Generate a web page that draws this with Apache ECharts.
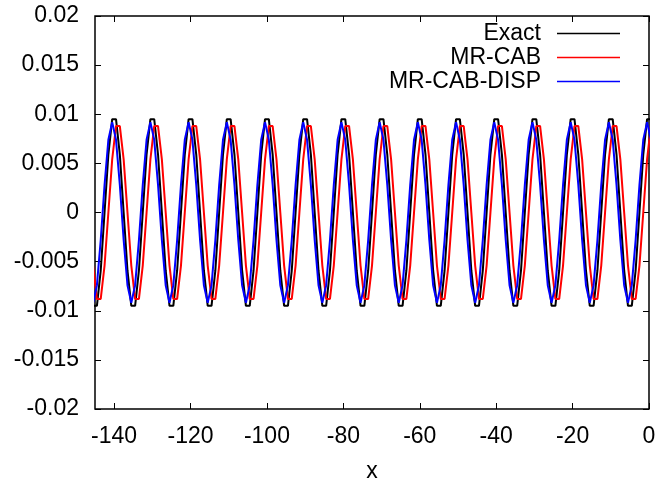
<!DOCTYPE html>
<html>
<head>
<meta charset="utf-8">
<script src="https://cdn.jsdelivr.net/npm/echarts@6/dist/echarts.min.js"></script>
<style>
  html, body { margin: 0; padding: 0; background: #fff; }
  #chart { width: 661px; height: 488px; }
</style>
</head>
<body>
<div id="chart"></div>
<script>
// Sample positions (one sample per unit of x, offset by half a unit)
const xValues = [
  -145.5,
  -144.5, -143.5, -142.5, -141.5, -140.5, -139.5, -138.5, -137.5, -136.5, -135.5,
  -134.5, -133.5, -132.5, -131.5, -130.5, -129.5, -128.5, -127.5, -126.5, -125.5,
  -124.5, -123.5, -122.5, -121.5, -120.5, -119.5, -118.5, -117.5, -116.5, -115.5,
  -114.5, -113.5, -112.5, -111.5, -110.5, -109.5, -108.5, -107.5, -106.5, -105.5,
  -104.5, -103.5, -102.5, -101.5, -100.5, -99.5, -98.5, -97.5, -96.5, -95.5,
  -94.5, -93.5, -92.5, -91.5, -90.5, -89.5, -88.5, -87.5, -86.5, -85.5,
  -84.5, -83.5, -82.5, -81.5, -80.5, -79.5, -78.5, -77.5, -76.5, -75.5,
  -74.5, -73.5, -72.5, -71.5, -70.5, -69.5, -68.5, -67.5, -66.5, -65.5,
  -64.5, -63.5, -62.5, -61.5, -60.5, -59.5, -58.5, -57.5, -56.5, -55.5,
  -54.5, -53.5, -52.5, -51.5, -50.5, -49.5, -48.5, -47.5, -46.5, -45.5,
  -44.5, -43.5, -42.5, -41.5, -40.5, -39.5, -38.5, -37.5, -36.5, -35.5,
  -34.5, -33.5, -32.5, -31.5, -30.5, -29.5, -28.5, -27.5, -26.5, -25.5,
  -24.5, -23.5, -22.5, -21.5, -20.5, -19.5, -18.5, -17.5, -16.5, -15.5,
  -14.5, -13.5, -12.5, -11.5, -10.5, -9.5, -8.5, -7.5, -6.5, -5.5,
  -4.5, -3.5, -2.5, -1.5, -0.5, 0.5
];

// Exact solution
const exact = [
  -0.0095,
  -0.0095, -0.0059, 0, 0.0059, 0.0095, 0.0095, 0.0059, 0, -0.0059, -0.0095,
  -0.0095, -0.0059, 0, 0.0059, 0.0095, 0.0095, 0.0059, 0, -0.0059, -0.0095,
  -0.0095, -0.0059, 0, 0.0059, 0.0095, 0.0095, 0.0059, 0, -0.0059, -0.0095,
  -0.0095, -0.0059, 0, 0.0059, 0.0095, 0.0095, 0.0059, 0, -0.0059, -0.0095,
  -0.0095, -0.0059, 0, 0.0059, 0.0095, 0.0095, 0.0059, 0, -0.0059, -0.0095,
  -0.0095, -0.0059, 0, 0.0059, 0.0095, 0.0095, 0.0059, 0, -0.0059, -0.0095,
  -0.0095, -0.0059, 0, 0.0059, 0.0095, 0.0095, 0.0059, 0, -0.0059, -0.0095,
  -0.0095, -0.0059, 0, 0.0059, 0.0095, 0.0095, 0.0059, 0, -0.0059, -0.0095,
  -0.0095, -0.0059, 0, 0.0059, 0.0095, 0.0095, 0.0059, 0, -0.0059, -0.0095,
  -0.0095, -0.0059, 0, 0.0059, 0.0095, 0.0095, 0.0059, 0, -0.0059, -0.0095,
  -0.0095, -0.0059, 0, 0.0059, 0.0095, 0.0095, 0.0059, 0, -0.0059, -0.0095,
  -0.0095, -0.0059, 0, 0.0059, 0.0095, 0.0095, 0.0059, 0, -0.0059, -0.0095,
  -0.0095, -0.0059, 0, 0.0059, 0.0095, 0.0095, 0.0059, 0, -0.0059, -0.0095,
  -0.0095, -0.0059, 0, 0.0059, 0.0095, 0.0095, 0.0059, 0, -0.0059, -0.0095,
  -0.0095, -0.0059, 0, 0.0059, 0.0095, 0.0095
];

// MR-CAB scheme
const mrCab = [
  -0.0054,
  -0.0088, -0.0088, -0.0054, 0, 0.0054, 0.0088, 0.0088, 0.0054, 0, -0.0054,
  -0.0088, -0.0088, -0.0054, 0, 0.0054, 0.0088, 0.0088, 0.0054, 0, -0.0054,
  -0.0088, -0.0088, -0.0054, 0, 0.0054, 0.0088, 0.0088, 0.0054, 0, -0.0054,
  -0.0088, -0.0088, -0.0054, 0, 0.0054, 0.0088, 0.0088, 0.0054, 0, -0.0054,
  -0.0088, -0.0088, -0.0054, 0, 0.0054, 0.0088, 0.0088, 0.0054, 0, -0.0054,
  -0.0088, -0.0088, -0.0054, 0, 0.0054, 0.0088, 0.0088, 0.0054, 0, -0.0054,
  -0.0088, -0.0088, -0.0054, 0, 0.0054, 0.0088, 0.0088, 0.0054, 0, -0.0054,
  -0.0088, -0.0088, -0.0054, 0, 0.0054, 0.0088, 0.0088, 0.0054, 0, -0.0054,
  -0.0088, -0.0088, -0.0054, 0, 0.0054, 0.0088, 0.0088, 0.0054, 0, -0.0054,
  -0.0088, -0.0088, -0.0054, 0, 0.0054, 0.0088, 0.0088, 0.0054, 0, -0.0054,
  -0.0088, -0.0088, -0.0054, 0, 0.0054, 0.0088, 0.0088, 0.0054, 0, -0.0054,
  -0.0088, -0.0088, -0.0054, 0, 0.0054, 0.0088, 0.0088, 0.0054, 0, -0.0054,
  -0.0088, -0.0088, -0.0054, 0, 0.0054, 0.0088, 0.0088, 0.0054, 0, -0.0054,
  -0.0088, -0.0088, -0.0054, 0, 0.0054, 0.0088, 0.0088, 0.0054, 0, -0.0054,
  -0.0088, -0.0088, -0.0054, 0, 0.0054, 0.0088
];

// MR-CAB-DISP scheme
const mrCabDisp = [
  -0.0092,
  -0.0074, -0.0028, 0.0028, 0.0074, 0.0092, 0.0074, 0.0028, -0.0028, -0.0074, -0.0092,
  -0.0074, -0.0028, 0.0028, 0.0074, 0.0092, 0.0074, 0.0028, -0.0028, -0.0074, -0.0092,
  -0.0074, -0.0028, 0.0028, 0.0074, 0.0092, 0.0074, 0.0028, -0.0028, -0.0074, -0.0092,
  -0.0074, -0.0028, 0.0028, 0.0074, 0.0092, 0.0074, 0.0028, -0.0028, -0.0074, -0.0092,
  -0.0074, -0.0028, 0.0028, 0.0074, 0.0092, 0.0074, 0.0028, -0.0028, -0.0074, -0.0092,
  -0.0074, -0.0028, 0.0028, 0.0074, 0.0092, 0.0074, 0.0028, -0.0028, -0.0074, -0.0092,
  -0.0074, -0.0028, 0.0028, 0.0074, 0.0092, 0.0074, 0.0028, -0.0028, -0.0074, -0.0092,
  -0.0074, -0.0028, 0.0028, 0.0074, 0.0092, 0.0074, 0.0028, -0.0028, -0.0074, -0.0092,
  -0.0074, -0.0028, 0.0028, 0.0074, 0.0092, 0.0074, 0.0028, -0.0028, -0.0074, -0.0092,
  -0.0074, -0.0028, 0.0028, 0.0074, 0.0092, 0.0074, 0.0028, -0.0028, -0.0074, -0.0092,
  -0.0074, -0.0028, 0.0028, 0.0074, 0.0092, 0.0074, 0.0028, -0.0028, -0.0074, -0.0092,
  -0.0074, -0.0028, 0.0028, 0.0074, 0.0092, 0.0074, 0.0028, -0.0028, -0.0074, -0.0092,
  -0.0074, -0.0028, 0.0028, 0.0074, 0.0092, 0.0074, 0.0028, -0.0028, -0.0074, -0.0092,
  -0.0074, -0.0028, 0.0028, 0.0074, 0.0092, 0.0074, 0.0028, -0.0028, -0.0074, -0.0092,
  -0.0074, -0.0028, 0.0028, 0.0074, 0.0092, 0.0074
];

const xTicks = [-140, -120, -100, -80, -60, -40, -20, 0];
const seriesNames = ['Exact', 'MR-CAB', 'MR-CAB-DISP'];
const seriesColors = ['#000000', '#ff0000', '#0000ff'];

const FONT = '"Liberation Sans", Arial, sans-serif';
const FS = 23;

const chart = echarts.init(document.getElementById('chart'), null, { renderer: 'canvas' });

const pairs = ys => xValues.map((x, i) => [x, ys[i]]);
const seriesData = [exact, mrCab, mrCabDisp];

const tickStyle = { color: '#000', width: 1 };
const hiddenLine = { show: false, onZero: false };

const legendTops = [22, 46, 70];

const option = {
  animation: false,
  backgroundColor: '#fff',
  grid: {
    left: 95, right: 12, top: 16, bottom: 74,
    show: true, borderColor: '#000', borderWidth: 1.5, backgroundColor: 'transparent'
  },
  xAxis: [
    {
      type: 'value', min: -145, max: 0, position: 'bottom',
      name: 'x', nameLocation: 'middle', nameGap: 51,
      nameTextStyle: { color: '#000', fontSize: FS, fontFamily: FONT },
      axisLine: hiddenLine,
      axisTick: { inside: true, length: 6, customValues: xTicks, lineStyle: tickStyle },
      axisLabel: { customValues: xTicks, color: '#000', fontSize: FS, fontFamily: FONT, margin: 16 },
      splitLine: { show: false }
    },
    {
      type: 'value', min: -145, max: 0, position: 'top',
      axisLine: hiddenLine,
      axisTick: { inside: true, length: 6, customValues: xTicks, lineStyle: tickStyle },
      axisLabel: { show: false },
      splitLine: { show: false }
    }
  ],
  yAxis: [
    {
      type: 'value', min: -0.02, max: 0.02, interval: 0.005, position: 'left',
      axisLine: hiddenLine,
      axisTick: { inside: true, length: 6, lineStyle: tickStyle },
      axisLabel: { color: '#000', fontSize: FS, fontFamily: FONT, margin: 16 },
      splitLine: { show: false }
    },
    {
      type: 'value', min: -0.02, max: 0.02, interval: 0.005, position: 'right',
      axisLine: hiddenLine,
      axisTick: { inside: true, length: 6, lineStyle: tickStyle },
      axisLabel: { show: false },
      splitLine: { show: false }
    }
  ],
  legend: seriesNames.map((name, i) => ({
    data: [name],
    orient: 'vertical',
    right: 41,
    top: legendTops[i],
    padding: 0,
    align: 'right',
    icon: 'rect',
    itemWidth: 63,
    itemHeight: 1.5,
    selectedMode: false,
    textStyle: { color: '#000', fontSize: FS, fontFamily: FONT, padding: [0, 11, 0, 0] }
  })),
  series: seriesNames.map((name, i) => ({
    name: name,
    type: 'line',
    xAxisIndex: 0,
    yAxisIndex: 0,
    data: pairs(seriesData[i]),
    showSymbol: false,
    symbol: 'none',
    clip: true,
    lineStyle: { color: seriesColors[i], width: 2 },
    itemStyle: { color: seriesColors[i] },
    z: 2 + i
  }))
};

chart.setOption(option);
</script>
</body>
</html>
